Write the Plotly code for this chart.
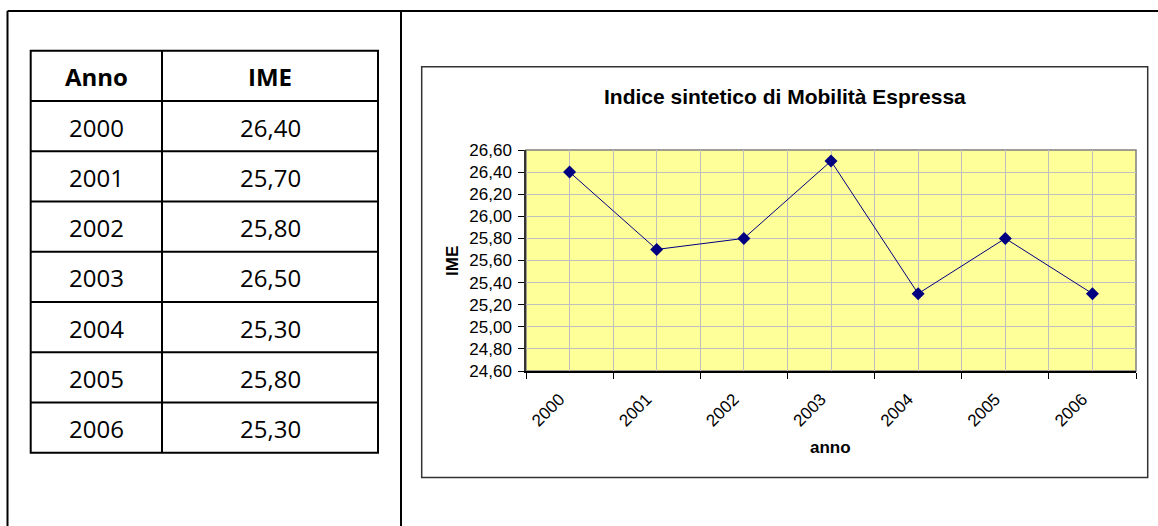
import plotly.graph_objects as go

# ---- data ----
years = [2000, 2001, 2002, 2003, 2004, 2005, 2006]
ime = [26.40, 25.70, 25.80, 26.50, 25.30, 25.80, 25.30]
year_labels = [str(y) for y in years]
title_text = "Indice sintetico di Mobilità Espressa"
table_headers = ["Anno", "IME"]

W, H = 1158, 526


def fx(x):
    return x / W


def fy(y):
    return 1 - y / H


fig = go.Figure()
fig.add_trace(go.Scatter(
    x=years, y=ime, mode="lines+markers",
    line=dict(color="#000080", width=1),
    marker=dict(symbol="diamond", size=10, color="#000080"),
    showlegend=False, cliponaxis=False,
))

shapes = []


def line(x0, y0, x1, y1, w=2, c="black"):
    shapes.append(dict(type="line", xref="paper", yref="paper",
                       x0=fx(x0), y0=fy(y0), x1=fx(x1), y1=fy(y1),
                       line=dict(color=c, width=w)))


# outer frame
line(7.5, 11, 1158, 11)
line(7.5, 11, 7.5, 526)
line(401, 11, 401, 526)

# table grid
tl, tr, tt, tb, tc = 30.7, 378, 50.7, 452.7, 162
nrows = len(years) + 1
rh = (tb - tt) / nrows
shapes.append(dict(type="rect", xref="paper", yref="paper",
                   x0=fx(tl), y0=fy(tt), x1=fx(tr), y1=fy(tb),
                   line=dict(color="black", width=2)))
line(tc, tt, tc, tb)
for k in range(1, nrows):
    line(tl, tt + k * rh, tr, tt + k * rh)

# chart box
shapes.append(dict(type="rect", xref="paper", yref="paper",
                   x0=fx(421.7), y0=fy(66.7), x1=fx(1147.7), y1=fy(477.5),
                   line=dict(color="#333333", width=1.5)))
# plot area border (gray)
shapes.append(dict(type="rect", xref="x domain", yref="y domain",
                   x0=0, y0=0, x1=1, y1=1, layer="below",
                   line=dict(color="#808080", width=1.5)))

annotations = []


def label(x, y, text, size, family, angle=0):
    annotations.append(dict(x=fx(x), y=fy(y), xref="paper", yref="paper",
                            xanchor="center", yanchor="middle",
                            text=text, showarrow=False, textangle=angle,
                            font=dict(family=family, size=size, color="black")))


tfont = "Open Sans, Noto Sans, sans-serif"
c1, c2 = (tl + tc) / 2, (tc + tr) / 2
label(c1, tt + rh / 2 + 1, "<b>%s</b>" % table_headers[0], 24, tfont)
label(c2, tt + rh / 2 + 1, "<b>%s</b>" % table_headers[1], 24, tfont)
for i, (yr, v) in enumerate(zip(years, ime)):
    cy = tt + (i + 1.5) * rh + 1
    label(c1, cy, str(yr), 24, tfont)
    label(c2, cy, ("%.2f" % v).replace(".", ","), 24, tfont)

cfont = "Liberation Sans, Arial, sans-serif"
label(784.7, 96, "<b>%s</b>" % title_text, 21, cfont)
label(452, 261, "<b>IME</b>", 17, cfont, angle=-90)
label(830, 447, "<b>anno</b>", 17, cfont)

fig.update_layout(
    width=W, height=H,
    margin=dict(l=0, r=0, t=0, b=0),
    paper_bgcolor="white", plot_bgcolor="#FFFF99",
    separators=",.",
    shapes=shapes, annotations=annotations,
    font=dict(family=cfont, color="black"),
    xaxis=dict(
        domain=[fx(526), fx(1136)],
        range=[1999.5, 2006.5],
        tickmode="array", tickvals=years, ticktext=year_labels,
        tickangle=-45, ticks="", tickfont=dict(size=17, color="black"),
        ticklabelstandoff=10, ticklabelshift=-10,
        showgrid=True, gridcolor="#C0C0C0", gridwidth=1,
        minor=dict(tickmode="linear", tick0=1999.5, dtick=1, ticks="outside",
                   ticklen=6, tickcolor="black", tickwidth=1,
                   showgrid=True, gridcolor="#C0C0C0", gridwidth=1),
        showline=True, linecolor="black", linewidth=1.5,
        zeroline=False, fixedrange=True, automargin=False,
    ),
    yaxis=dict(
        domain=[fy(371), fy(150)],
        range=[24.6, 26.6], tickmode="linear", tick0=24.6, dtick=0.2,
        tickformat=".2f", ticks="outside", ticklen=6, tickcolor="black",
        tickfont=dict(size=17, color="black"), ticklabelstandoff=3,
        showgrid=True, gridcolor="#C0C0C0", gridwidth=1,
        showline=True, linecolor="#333333", linewidth=1.5,
        zeroline=False, fixedrange=True, automargin=False,
    ),
)

fig.write_html(
    "out.html",
    config={"responsive": False, "displayModeBar": False},
    post_script="document.body.style.margin='0px';document.body.style.overflow='hidden';",
)
